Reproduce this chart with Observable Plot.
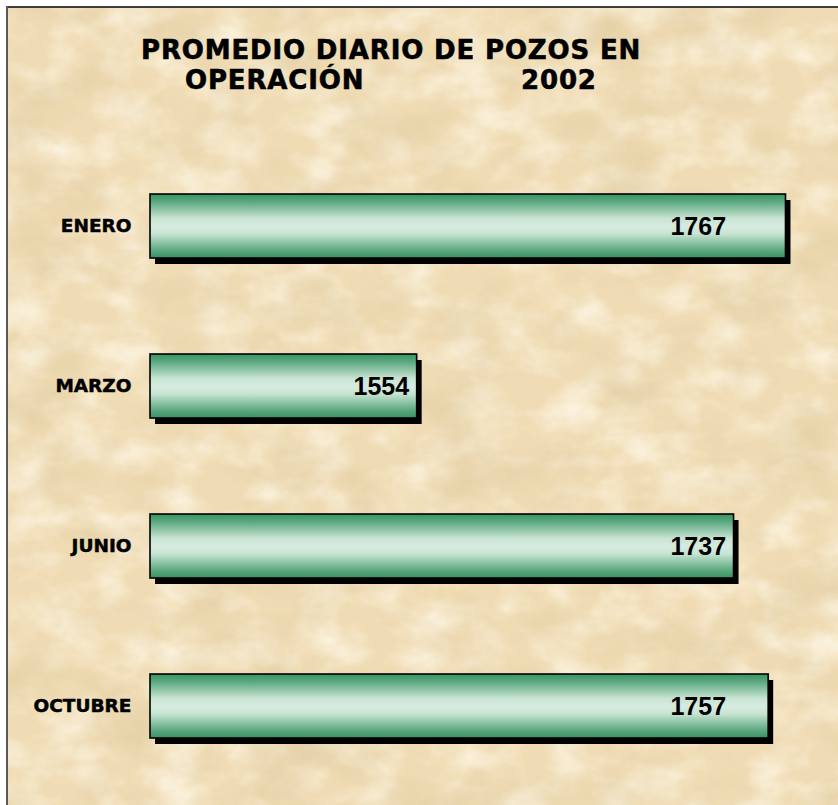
<!DOCTYPE html>
<html>
<head>
<meta charset="utf-8">
<script src="https://cdn.jsdelivr.net/npm/d3@7"></script>
<script src="https://cdn.jsdelivr.net/npm/@observablehq/plot@0.6"></script>
<style>
  html, body { margin: 0; padding: 0; background: #ffffff; }
  #page { position: relative; width: 838px; height: 805px; overflow: hidden; background: #efdcb6; }
  #texture { position: absolute; left: 0; top: 0; }
  #frameTop { position: absolute; left: 0; top: 0; width: 838px; height: 6px; background: #ffffff; }
  #frameLeft { position: absolute; left: 0; top: 0; width: 6px; height: 805px; background: #ffffff; }
  #lineTop { position: absolute; left: 6px; top: 6px; width: 832px; height: 2px; background: #3c3c3c; }
  #lineLeft { position: absolute; left: 6px; top: 6px; width: 2px; height: 799px; background: #5a5a5a; }
  #title { position: relative; height: 110px; font-family: "DejaVu Sans", Verdana, sans-serif; font-weight: bold; font-size: 26px; letter-spacing: 0.85px; color: #000; -webkit-text-stroke: 0.6px #000; }
  #title span { position: absolute; white-space: nowrap; line-height: 1; }
  #chart { position: relative; }
  #chart svg { display: block; }
</style>
</head>
<body>
<div id="page">
  <svg id="texture" width="838" height="805">
    <defs>
      <filter id="mottle" x="0" y="0" width="100%" height="100%">
        <feTurbulence type="fractalNoise" baseFrequency="0.012 0.018" numOctaves="5" seed="7" result="n"/>
        <feColorMatrix in="n" type="matrix" values="0 0 0 0 0.74  0 0 0 0 0.60  0 0 0 0 0.36  1.5 0 0 0 -0.68"/>
      </filter>
      <filter id="light" x="0" y="0" width="100%" height="100%">
        <feTurbulence type="fractalNoise" baseFrequency="0.02 0.03" numOctaves="4" seed="19" result="n"/>
        <feColorMatrix in="n" type="matrix" values="0 0 0 0 1  0 0 0 0 0.96  0 0 0 0 0.85  1.6 0 0 0 -0.65"/>
      </filter>
    </defs>
    <rect width="838" height="805" fill="#f0dcb4"/>
    <rect width="838" height="805" filter="url(#light)"/>
    <rect width="838" height="805" filter="url(#mottle)"/>
  </svg>
  <div id="frameTop"></div>
  <div id="frameLeft"></div>
  <div id="lineTop"></div>
  <div id="lineLeft"></div>
  <div id="title">
    <span style="left:141px; top:37px;">PROMEDIO DIARIO DE POZOS EN</span>
    <span style="left:185px; top:67px;">OPERACIÓN</span>
    <span style="left:521px; top:67px;">2002</span>
  </div>
  <div id="chart"></div>
</div>
<script>
// Data
const months = ["ENERO", "MARZO", "JUNIO", "OCTUBRE"];
const wells = [1767, 1554, 1737, 1757];
const xDomain = [1400, 1780];

const data = months.map((m, i) => ({month: m, value: wells[i]}));
const baseline = xDomain[0];
const labelCap = 1737;

const plot = Plot.plot({
  width: 838,
  height: 695,
  marginLeft: 150,
  marginRight: 30,
  marginTop: 36,
  marginBottom: 19,
  style: {background: "transparent", overflow: "visible"},
  x: {domain: xDomain, axis: null},
  y: {domain: months, paddingInner: 0.6, paddingOuter: 0.3, label: null, tickSize: 0, tickPadding: 19},
  marks: [
    Plot.axisY({
      tickSize: 0,
      tickPadding: 19,
      label: null,
      fontSize: 18.5,
      fontWeight: "bold",
      fontFamily: "DejaVu Sans, Verdana, sans-serif",
      fill: "#000",
      textStroke: "#000",
      textStrokeWidth: 0.5,
      textStrokeOpacity: 1
    }),
    Plot.barX(data, {x1: baseline, x2: "value", y: "month", fill: "#000", dx: 5, dy: 6}),
    Plot.barX(data, {x1: baseline, x2: "value", y: "month", fill: "url(#barGrad)", stroke: "#000", strokeWidth: 1.6}),
    Plot.text(data, {
      x: d => Math.min(d.value, labelCap),
      y: "month",
      text: d => String(d.value),
      textAnchor: "end",
      dx: -8,
      fontSize: 25,
      fontWeight: "bold",
      fontFamily: "Liberation Sans, Arial, sans-serif",
      fill: "#000"
    })
  ]
});

// gradient definition for the bars
const svg = d3.select(plot);
const defs = svg.insert("defs", ":first-child");
const grad = defs.append("linearGradient")
  .attr("id", "barGrad")
  .attr("x1", 0).attr("y1", 0).attr("x2", 0).attr("y2", 1);
[
  [0, "#3a9264"],
  [0.12, "#5aa87e"],
  [0.38, "#c8e4d3"],
  [0.5, "#d6ebdf"],
  [0.62, "#c8e4d3"],
  [0.88, "#5aa87e"],
  [1, "#3a9264"]
].forEach(([o, c]) => grad.append("stop").attr("offset", o).attr("stop-color", c));

document.getElementById("chart").appendChild(plot);
</script>
</body>
</html>
